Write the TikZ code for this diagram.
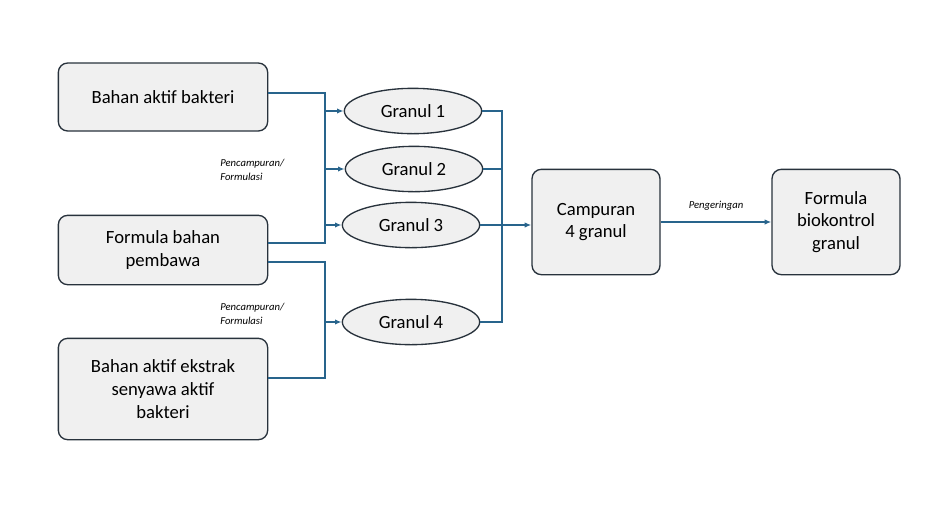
\documentclass[tikz,border=0pt]{standalone}
\usepackage{fontspec}
\setmainfont{Carlito}
\usetikzlibrary{shapes.geometric,arrows.meta}
\definecolor{ln}{RGB}{40,100,140}
\definecolor{bx}{RGB}{240,240,240}
\definecolor{bd}{RGB}{40,50,60}
\begin{document}
\begin{tikzpicture}[x=0.75pt,y=-0.75pt,
 box/.style={draw=bd,fill=bx,rounded corners=7pt,line width=1pt,align=center,font=\fontsize{14}{17}\selectfont,inner sep=0pt},
 gr/.style={draw=bd,fill=bx,ellipse,line width=1pt,minimum width=103pt,minimum height=34pt,inner sep=0pt,font=\fontsize{14}{17}\selectfont},
 con/.style={draw=ln,line width=1pt},
 arr/.style={con,-{Latex[length=5pt,width=4pt]}},
 lab/.style={font=\itshape\fontsize{8}{10}\selectfont,align=left,inner sep=0pt}]
\useasboundingbox (0,0) rectangle (949,515);
\node[box,minimum width=157pt,minimum height=51pt] (A) at (163,97) {Bahan aktif bakteri};
\node[box,minimum width=157pt,minimum height=52pt] (B) at (163,250) {Formula bahan\\pembawa};
\node[box,minimum width=157pt,minimum height=76pt] (C) at (163,389) {Bahan aktif ekstrak\\senyawa aktif\\bakteri};
\node[gr] (g1) at (413,111) {Granul 1};
\node[gr] (g2) at (414,169) {Granul 2};
\node[gr] (g3) at (411,225) {Granul 3};
\node[gr] (g4) at (411,322) {Granul 4};
\node[box,minimum width=96pt,minimum height=79pt] (M) at (596,222) {Campuran\\4 granul};
\node[box,minimum width=96pt,minimum height=79pt] (F) at (836,222) {Formula\\biokontrol\\granul};
\coordinate (s1t) at (325,93); \coordinate (s1b) at (325,243);
\coordinate (s2t) at (325,262); \coordinate (s2b) at (325,378);
\coordinate (rt) at (502,111); \coordinate (rb) at (502,322);
\draw[con] (A.east|-s1t) -- (s1t) -- (s1b) -- (B.east|-s1b);
\draw[arr] (325,111) -- (g1.west);
\draw[arr] (325,169) -- (g2.west);
\draw[arr] (325,225) -- (g3.west);
\draw[con] (B.east|-s2t) -- (s2t) -- (s2b) -- (C.east|-s2b);
\draw[arr] (325,322) -- (g4.west);
\draw[con] (g1.east) -- (rt) -- (rb) -- (g4.east);
\draw[con] (g2.east) -- (502,169);
\draw[arr] (g3.east) -- (M.west|-g3.east);
\draw[arr] (M.east) -- node[lab,above=8pt]{Pengeringan} (F.west);
\node[lab,anchor=west] (l1) at (220,170) {Pencampuran/\\Formulasi};
\node[lab,anchor=west] (l2) at (220,314) {Pencampuran/\\Formulasi};
\end{tikzpicture}
\end{document}
